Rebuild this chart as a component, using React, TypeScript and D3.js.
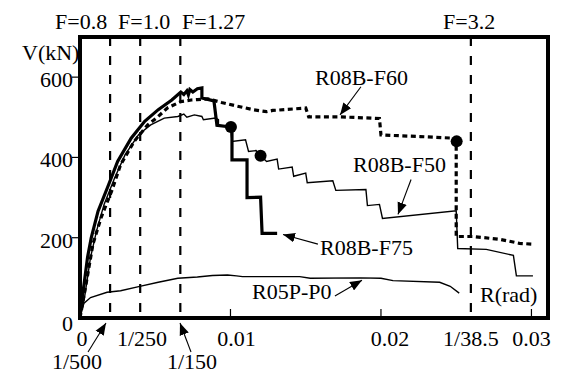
import React from "react";
import * as d3 from "d3";

// ---- data (rotation R [rad], shear V [kN]) ----
const seriesF75: [number, number][] = [
  [0, 0], [0.0001, 40], [0.00027, 84], [0.0005, 151], [0.00075, 200], [0.0012, 266],
  [0.0019, 332], [0.0025, 390], [0.0034, 448], [0.0043, 490], [0.0052, 519],
  [0.0061, 543], [0.0067, 563], [0.0069, 557], [0.0071, 566], [0.0072, 556],
  [0.0073, 569], [0.0075, 563], [0.0078, 571], [0.0081, 573], [0.0081, 548],
  [0.0089, 541], [0.0091, 480], [0.01, 476], [0.0101, 462], [0.0101, 394],
  [0.0111, 394], [0.0111, 300], [0.012, 301], [0.0121, 211], [0.0131, 211],
];

const seriesF50: [number, number][] = [
  [0, 0], [0.0003, 51], [0.0007, 151], [0.0011, 217], [0.0016, 283], [0.0023, 349],
  [0.003, 407], [0.0039, 457], [0.0047, 481], [0.0056, 498], [0.0065, 502],
  [0.0069, 508], [0.0071, 500], [0.0076, 506], [0.0081, 502], [0.0082, 494],
  [0.009, 498], [0.0092, 494], [0.0092, 480], [0.01, 476], [0.0101, 440],
  [0.011, 444], [0.0112, 415], [0.0117, 417], [0.012, 404], [0.0124, 390],
  [0.0131, 396], [0.0132, 371], [0.0141, 376], [0.0142, 353], [0.015, 361],
  [0.0151, 337], [0.0168, 342], [0.017, 318], [0.019, 320], [0.0191, 280],
  [0.0199, 283], [0.0201, 248], [0.025, 267], [0.0251, 173], [0.027, 171],
  [0.0288, 156], [0.029, 105], [0.0301, 105],
];

const seriesF60: [number, number][] = [
  [0, 0], [0.0004, 84], [0.00086, 184], [0.0014, 250], [0.0021, 316], [0.0027, 382],
  [0.0036, 440], [0.0045, 481], [0.0052, 502], [0.0058, 523], [0.0067, 539],
  [0.0074, 543], [0.0078, 544], [0.0085, 546], [0.0094, 537], [0.0103, 529],
  [0.0115, 519], [0.0124, 514], [0.0128, 517], [0.015, 523], [0.0152, 501],
  [0.0173, 501], [0.0199, 497], [0.02, 456], [0.0226, 452], [0.0248, 448],
  [0.025, 439], [0.025, 203], [0.0261, 203], [0.0279, 196], [0.0292, 186],
  [0.0301, 184],
];

const seriesP0: [number, number][] = [
  [0, 0], [0.0001, 18], [0.00027, 37], [0.0007, 51], [0.0018, 64], [0.0027, 68],
  [0.0039, 78], [0.0052, 89], [0.0065, 99], [0.0078, 102], [0.0088, 106],
  [0.0098, 107], [0.0104, 105], [0.0108, 103], [0.0146, 103], [0.0153, 99],
  [0.0186, 100], [0.02, 99], [0.0208, 93], [0.0239, 89], [0.0246, 79], [0.0252, 62],
];

const markerPoints: [number, number][] = [
  [0.01003, 476], [0.012, 404], [0.02503, 440],
];

const drifts = [1 / 500, 1 / 250, 1 / 150, 1 / 38.5];
const driftLabels = ["F=0.8", "F=1.0", "F=1.27", "F=3.2"];
const yTicks = [0, 200, 400, 600];
const xInnerTicks = [0.01, 0.02, 0.03];
const xLabelsRow1 = ["0", "1/250", "0.01", "0.02", "1/38.5", "0.03"];
const xLabelsRow1Values = [0, 1 / 250, 0.0104, 0.0206, 1 / 38.5, 0.03];
const xLabelsRow2 = ["1/500", "1/150"];

const seriesNames = ["R08B-F60", "R08B-F50", "R08B-F75", "R05P-P0"];
// arrow [tailR, tailV, tipR, tipV] in data units
const seriesArrows: [number, number, number, number][] = [
  [0.01867, 576, 0.01728, 506],
  [0.022, 345, 0.02113, 258],
  [0.01581, 184, 0.01349, 208],
  [0.01694, 55, 0.01874, 94],
];

export default function App() {
  const W = 567, H = 373;
  const x = d3.scaleLinear().domain([0, 0.0311]).range([80, 548]);
  const y = d3.scaleLinear().domain([0, 700]).range([318, 37]);
  const line = d3.line<[number, number]>().x((d) => x(d[0])).y((d) => y(d[1]));
  const font = '"Liberation Serif", Tinos, "Times New Roman", Times, "DejaVu Serif", serif';
  const ts: React.CSSProperties = { fontFamily: font, fontSize: 22 };

  const labelPos = [
    [315, 85], [353, 172], [320, 255], [252, 299],
  ];
  const driftLabelX = [55, 118, 182, 443];
  const row1X = [82, 142, 0, 0, 0, 0];

  return (
    <svg width={W} height={H} style={{ position: "absolute", left: 0, top: 0, background: "#fff" }}>
      <defs>
        <marker id="ah" markerUnits="userSpaceOnUse" markerWidth={12} markerHeight={10}
          refX={10} refY={4} orient="auto" viewBox="0 0 10 8">
          <path d="M0,0 L10,4 L0,8 z" fill="#000" />
        </marker>
      </defs>
      <rect x={0} y={0} width={W} height={H} fill="#fff" />

      {/* drift dashed lines */}
      {drifts.map((d, i) => (
        <line key={"dl" + i} x1={x(d)} x2={x(d)} y1={y(700)} y2={y(0)}
          stroke="#000" strokeWidth={2.2} strokeDasharray="9 10" />
      ))}
      {driftLabels.map((t, i) => (
        <text key={"dt" + i} style={ts} x={driftLabelX[i]} y={29}>{t}</text>
      ))}

      {/* series */}
      <path d={line(seriesP0) || ""} fill="none" stroke="#000" strokeWidth={1.4} />
      <path d={line(seriesF50) || ""} fill="none" stroke="#000" strokeWidth={1.4} />
      <path d={line(seriesF60) || ""} fill="none" stroke="#000" strokeWidth={3.2} strokeDasharray="5 3.5" />
      <path d={line(seriesF75) || ""} fill="none" stroke="#000" strokeWidth={3.2} strokeLinejoin="miter" />
      {markerPoints.map((p, i) => (
        <circle key={"m" + i} cx={x(p[0])} cy={y(p[1])} r={6} fill="#000" />
      ))}

      {/* frame */}
      <rect x={80} y={37} width={468} height={281} fill="none" stroke="#000" strokeWidth={4} />
      {yTicks.filter((v) => v > 0).map((v) => (
        <line key={"yt" + v} x1={72} x2={80} y1={y(v)} y2={y(v)} stroke="#000" strokeWidth={1.2} />
      ))}
      {xInnerTicks.map((v) => (
        <line key={"xt" + v} x1={x(v)} x2={x(v)} y1={318} y2={309} stroke="#000" strokeWidth={1.2} />
      ))}
      {yTicks.map((v) => (
        <text key={"yl" + v} style={ts} x={73} y={y(v) + (v === 0 ? 13 : 10)} textAnchor="end">{v}</text>
      ))}
      <text style={ts} x={22} y={60}>V(kN)</text>
      <text style={ts} x={480} y={302}>R(rad)</text>

      {xLabelsRow1.map((t, i) => (
        <text key={"xl" + i} style={ts} x={row1X[i] || x(xLabelsRow1Values[i])} y={346} textAnchor="middle">{t}</text>
      ))}
      <text style={ts} x={77} y={369} textAnchor="middle">{xLabelsRow2[0]}</text>
      <text style={ts} x={192} y={369} textAnchor="middle">{xLabelsRow2[1]}</text>
      <line x1={88} y1={352} x2={106} y2={323} stroke="#000" strokeWidth={1.1} markerEnd="url(#ah)" />
      <line x1={191} y1={352} x2={180} y2={323} stroke="#000" strokeWidth={1.1} markerEnd="url(#ah)" />

      {/* series labels */}
      {seriesNames.map((n, i) => (
        <g key={"sn" + i}>
          <text style={ts} x={labelPos[i][0]} y={labelPos[i][1]}>{n}</text>
          <line x1={x(seriesArrows[i][0])} y1={y(seriesArrows[i][1])}
            x2={x(seriesArrows[i][2])} y2={y(seriesArrows[i][3])}
            stroke="#000" strokeWidth={1.1} markerEnd="url(#ah)" />
        </g>
      ))}
    </svg>
  );
}
